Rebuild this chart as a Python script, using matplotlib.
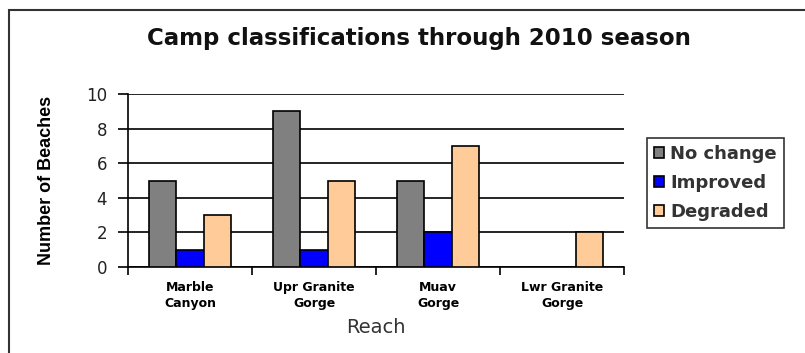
import matplotlib.pyplot as plt
import numpy as np
from matplotlib.patches import Rectangle

reaches = ["Marble\nCanyon", "Upr Granite\nGorge", "Muav\nGorge", "Lwr Granite\nGorge"]
no_change = [5, 9, 5, 0]
improved = [1, 1, 2, 0]
degraded = [3, 5, 7, 2]
series_names = ["No change", "Improved", "Degraded"]
colors = ["#808080", "#0000FF", "#FFCC99"]

plt.rcParams['font.family'] = ['DejaVu Sans']

fig = plt.figure(figsize=(8.05, 3.53), dpi=100)
ax = fig.add_axes([128 / 805, 1 - 267 / 353, (624 - 128) / 805, (267 - 94) / 353])

# outer chart frame (partly clipped like in the screenshot)
fig.patches.append(Rectangle((9 / 805, -0.05), 1.0, 1 - 10 / 353 + 0.05,
                             transform=fig.transFigure, fill=False,
                             edgecolor="#333333", linewidth=1.5))

x = np.arange(len(reaches))
w = 0.222
for i, (vals, name, c) in enumerate(zip([no_change, improved, degraded], series_names, colors)):
    ax.bar(x + (i - 1) * w, vals, w, color=c, edgecolor="black", linewidth=1.2,
           label=name, zorder=3)

ax.set_xlim(-0.5, len(reaches) - 0.5)
ax.set_ylim(0, 10)
ax.set_yticks(range(0, 11, 2))
ax.yaxis.grid(True, color="black", linewidth=1.2, zorder=0)
ax.set_axisbelow(True)
for s in ["top", "right"]:
    ax.spines[s].set_visible(False)
ax.spines["left"].set_linewidth(1.2)
ax.spines["bottom"].set_linewidth(1.2)

ax.set_xticks(np.arange(len(reaches) + 1) - 0.5, minor=False)
ax.set_xticklabels([])
ax.tick_params(axis="x", length=6, width=1.2, direction="out")
ax.set_xticks(x, minor=True)
ax.set_xticklabels(reaches, minor=True, fontsize=9, fontweight="bold", linespacing=1.3)
ax.tick_params(axis="x", which="minor", length=0, pad=10)
ax.tick_params(axis="y", length=7, width=1.2, labelsize=12, pad=8, labelcolor="#222222")

ax.set_ylabel("Number of Beaches", fontsize=13, fontweight="bold", labelpad=22,
              family=["Liberation Sans Narrow", "Liberation Sans"])
ax.set_xlabel("Reach", fontsize=14, labelpad=6, color="#333333")
fig.text(0.52, 1 - 38 / 353, "Camp classifications through 2010 season",
         ha="center", va="center", fontsize=16.5, fontweight="bold", color="#111111")

leg = fig.legend(loc="upper left", bbox_to_anchor=(647 / 805, 1 - 138 / 353),
                 borderaxespad=0, frameon=True, fancybox=False, fontsize=13,
                 handlelength=0.55, handleheight=0.55, handletextpad=0.35,
                 borderpad=0.4, labelspacing=0.6)
for t in leg.get_texts():
    t.set_color("#333333")
    t.set_fontweight("semibold")
leg.get_frame().set_edgecolor("black")
leg.get_frame().set_linewidth(1.2)

fig.savefig("out.png", dpi=100)
